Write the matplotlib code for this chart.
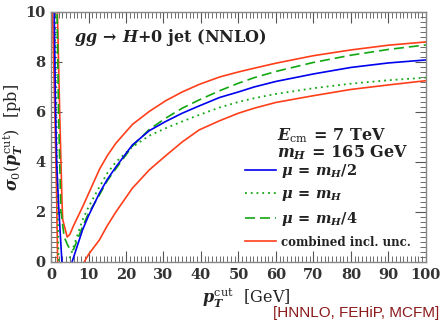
import numpy as np
import matplotlib
matplotlib.use("Agg")
import matplotlib.pyplot as plt
from matplotlib.ticker import MultipleLocator, FuncFormatter

plt.rcParams['font.family'] = ['DejaVu Serif']
plt.rcParams['mathtext.fontset'] = 'custom'
plt.rcParams['mathtext.rm'] = 'DejaVu Serif'
plt.rcParams['mathtext.bf'] = 'DejaVu Serif:bold'
plt.rcParams['mathtext.it'] = 'DejaVu Serif:italic:bold'

# mu = m_H/2 (blue solid), left and right branches
blue_x_l = [0.6, 0.85, 1.2, 1.5, 2.0, 2.9, 3.3]
blue_y_l = [12.0, 10.0, 6.0, 4.0, 2.3, 0.0, -1.0]
blue_x_r = [5.0, 5.6, 8.4, 10.0, 12.9, 15.0, 17.3, 21.7, 26.2, 30.6, 35.0, 39.5, 45.0, 50, 54.2, 60, 70, 80, 90, 100]
blue_y_r = [-0.3, 0.0, 1.28, 1.85, 2.75, 3.3, 3.8, 4.68, 5.25, 5.62, 5.95, 6.24, 6.58, 6.8, 7.0, 7.22, 7.52, 7.78, 7.96, 8.08]

# mu = m_H (green dotted)
dot_x_l = [0.8, 1.0, 1.3, 1.6, 2.0, 2.3]
dot_y_l = [12.0, 10.0, 6.5, 4.0, 0.0, -1.0]
dot_x_r = [4.3, 4.6, 5.3, 8.4, 10.0, 12.9, 15.0, 17.3, 21.7, 26.2, 30.6, 35.0, 39.5, 45.0, 50, 54.2, 60, 70, 80, 90, 100]
dot_y_r = [-0.3, 0.0, 0.3, 1.68, 2.2, 3.0, 3.55, 4.0, 4.6, 5.05, 5.35, 5.62, 5.88, 6.18, 6.4, 6.55, 6.72, 6.95, 7.13, 7.27, 7.37]

# mu = m_H/4 (green dashed)
dash_x = [1.4, 1.6, 2.0, 2.6, 3.5, 4.4, 5.3, 6.0, 8.4, 10.0, 12.9, 15.0, 17.3, 21.7, 26.2, 30.6, 35.0, 39.5, 45.0, 50, 54.2, 60, 70, 80, 90, 100]
dash_y = [12.0, 10.0, 6.0, 2.08, 1.0, 0.68, 0.45, 0.5, 1.41, 1.95, 2.68, 3.25, 3.73, 4.63, 5.3, 5.75, 6.15, 6.48, 6.85, 7.15, 7.37, 7.62, 7.98, 8.27, 8.5, 8.68]

# combined incl. unc. (red): upper edge and lower edge
up_x = [1.5, 1.7, 2.3, 2.9, 3.1, 4.3, 5.0, 6.0, 8.4, 10.0, 12.9, 15.0, 17.3, 21.7, 26.2, 30.6, 35.0, 39.5, 45.0, 50, 54.2, 60, 70, 80, 90, 100]
up_y = [12.0, 10.0, 6.0, 2.5, 1.7, 1.0, 1.1, 1.45, 2.2, 2.73, 3.7, 4.25, 4.75, 5.5, 6.02, 6.45, 6.8, 7.1, 7.4, 7.6, 7.75, 7.95, 8.25, 8.48, 8.67, 8.8]
lo_x_l = [0.2, 0.4, 1.0, 1.5, 1.8]
lo_y_l = [12.0, 10.0, 6.0, 2.5, -0.5]
lo_x_r = [8.0, 8.85, 10.0, 12.9, 15.0, 17.3, 21.7, 26.2, 30.6, 35.0, 39.5, 45.0, 50, 54.2, 60, 70, 80, 90, 100]
lo_y_r = [-0.3, 0.0, 0.3, 0.88, 1.45, 2.0, 2.95, 3.68, 4.25, 4.8, 5.28, 5.65, 5.95, 6.15, 6.38, 6.65, 6.9, 7.08, 7.25]

c_blue = '#0000ee'
c_green = '#12a812'
c_red = '#ff3f1a'

fig = plt.figure(figsize=(4.44, 3.23), dpi=100)
ax = fig.add_axes([0.115, 0.189, 0.844, 0.774])

ax.plot(lo_x_l, lo_y_l, color=c_red, lw=1.2)
ax.plot(lo_x_r, lo_y_r, color=c_red, lw=1.2)
ax.plot(up_x, up_y, color=c_red, lw=1.2, label='combined incl. unc.')
ax.plot(dash_x, dash_y, color=c_green, lw=1.2, ls=(0, (6, 3)), label=r'$\mu\,\mathbf{=}\,m_H\mathbf{/4}$')
ax.plot(dot_x_l, dot_y_l, color=c_green, lw=1.3, ls=(0, (1, 2.2)))
ax.plot(dot_x_r, dot_y_r, color=c_green, lw=1.3, ls=(0, (1, 2.2)), label=r'$\mu\,\mathbf{=}\,m_H$')
ax.plot(blue_x_l, blue_y_l, color=c_blue, lw=1.2)
ax.plot(blue_x_r, blue_y_r, color=c_blue, lw=1.2, label=r'$\mu\,\mathbf{=}\,m_H\mathbf{/2}$')

ax.set_xlim(0, 100)
ax.set_ylim(0, 10)
ax.xaxis.set_major_locator(MultipleLocator(10))
ax.xaxis.set_minor_locator(MultipleLocator(1))
ax.yaxis.set_major_locator(MultipleLocator(2))
ax.yaxis.set_minor_locator(MultipleLocator(0.2))
fmt = FuncFormatter(lambda v, p: '%d' % int(round(v)))
ax.xaxis.set_major_formatter(fmt)
ax.yaxis.set_major_formatter(fmt)
ax.tick_params(which='both', direction='in', top=True, right=True, color='#555555')
ax.tick_params(which='major', length=8, labelsize=10.5, pad=4, labelcolor='#333333')
ax.tick_params(which='minor', length=4)
for t in ax.get_xticklabels() + ax.get_yticklabels():
    t.set_fontweight('bold')
for s in ax.spines.values():
    s.set_color('#888888')
    s.set_linewidth(1.0)

ax.set_xlabel(r'$p_T^{\rm cut}\ \ [\mathrm{GeV}]$', fontsize=11.5, color='#222222')
ax.set_ylabel(r'$\sigma_0(p_T^{\rm cut})\ \ [\mathrm{pb}]$', fontsize=11.5, color='#222222')
ax.xaxis.set_label_coords(0.52, -0.1)
ax.yaxis.set_label_coords(-0.07, 0.5)

ax.text(0.062, 0.896, r'$gg \,\mathbf{\to}\, H\mathbf{+0\ jet\ (NNLO)}$', transform=ax.transAxes,
        fontsize=11.5, color='#222222', va='center')
ax.text(0.602, 0.504, r'$E_{\rm cm}\,\mathbf{=\,7\ TeV}$', transform=ax.transAxes,
        fontsize=11.5, color='#222222', va='center')
ax.text(0.602, 0.436, r'$m_H\,\mathbf{=\,165\ GeV}$', transform=ax.transAxes,
        fontsize=11.5, color='#222222', va='center')

h, l = ax.get_legend_handles_labels()
order = [3, 2, 1, 0]
leg = ax.legend([h[i] for i in order], [l[i] for i in order], loc='lower right',
                bbox_to_anchor=(0.995, 0.0), frameon=False, fontsize=10.5,
                handlelength=2.1, labelspacing=0.5, handletextpad=0.35)
for t in leg.get_texts():
    t.set_color('#222222')
leg.get_texts()[3].set_fontsize(8.5)
leg.get_texts()[3].set_fontweight('bold')

fig.text(0.99, 0.01, '[HNNLO, FEHiP, MCFM]', ha='right', va='bottom', fontsize=11,
         color='#8b1a1a', family='Liberation Sans')

fig.savefig('out.png', dpi=100)
